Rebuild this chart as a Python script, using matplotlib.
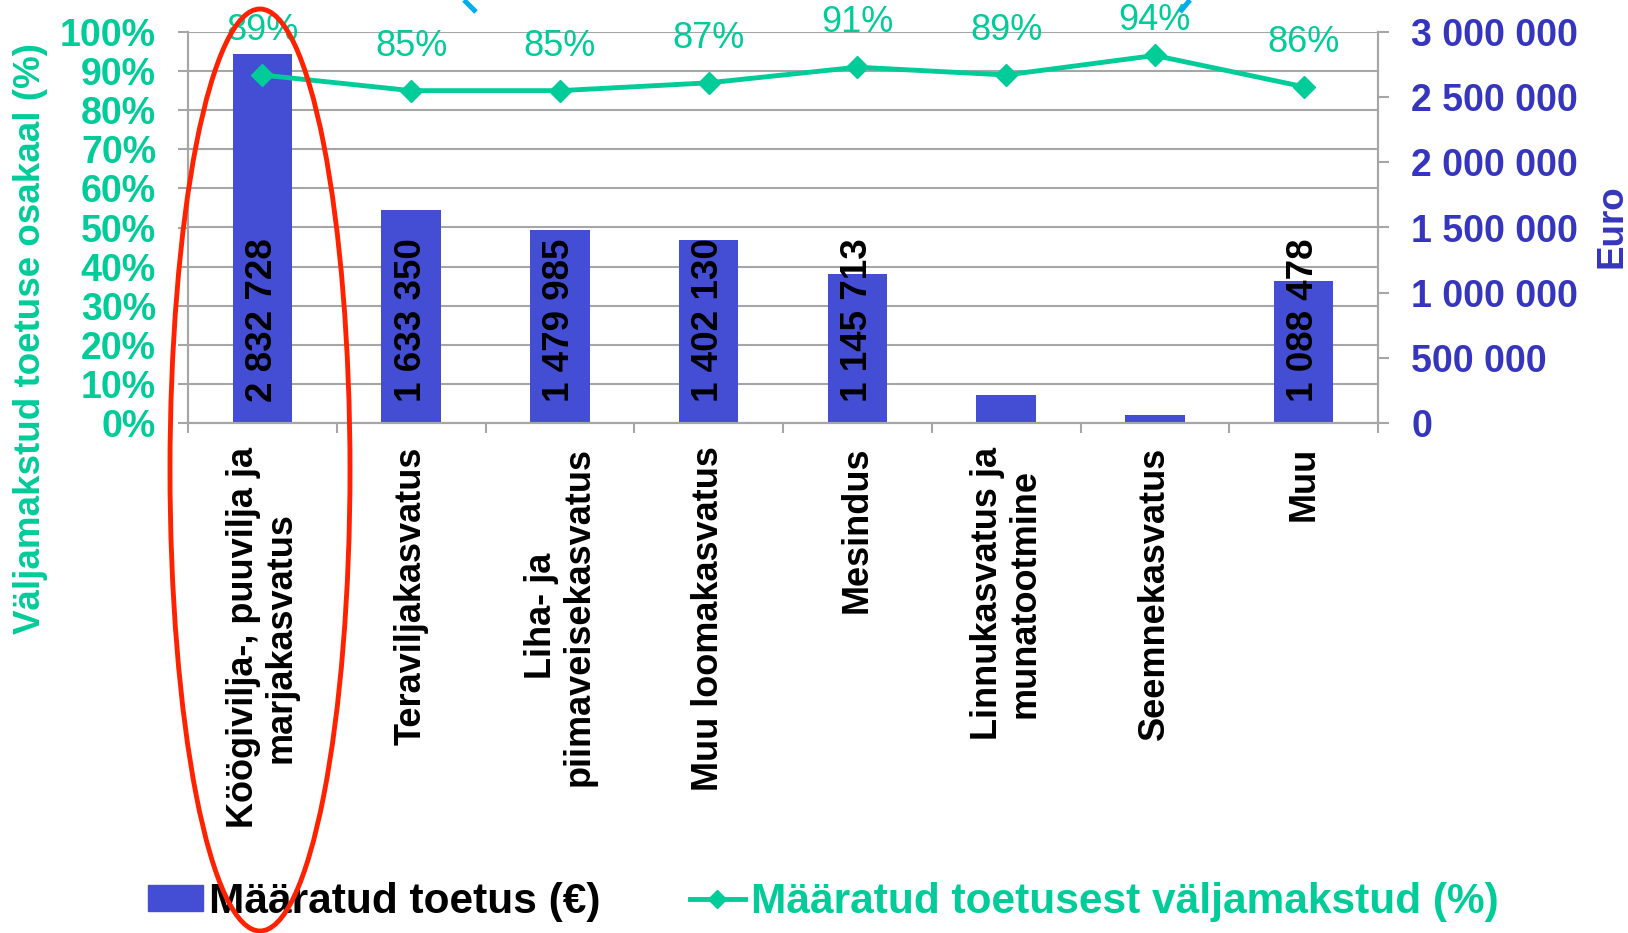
import matplotlib
matplotlib.use("Agg")
import matplotlib.pyplot as plt
import numpy as np
from matplotlib.patches import Ellipse
from matplotlib.lines import Line2D

# data
categories = [
    "Köögivilja-, puuvilja ja\nmarjakasvatus",
    "Teraviljakasvatus",
    "Liha- ja\npiimaveisekasvatus",
    "Muu loomakasvatus",
    "Mesindus",
    "Linnukasvatus ja\nmunatootmine",
    "Seemnekasvatus",
    "Muu",
]
granted_eur = [2832728, 1633350, 1479985, 1402130, 1145713, 215000, 60000, 1088478]
bar_labels = ["2 832 728", "1 633 350", "1 479 985", "1 402 130", "1 145 713", "", "", "1 088 478"]
paid_share = [0.89, 0.85, 0.85, 0.87, 0.91, 0.89, 0.94, 0.86]
share_labels = ["89%", "85%", "85%", "87%", "91%", "89%", "94%", "86%"]
eur_ticks = [0, 500000, 1000000, 1500000, 2000000, 2500000, 3000000]
eur_ticklabels = ["0", "500 000", "1 000 000", "1 500 000", "2 000 000", "2 500 000", "3 000 000"]
pct_ticks = [0.0, 0.1, 0.2, 0.3, 0.4, 0.5, 0.6, 0.7, 0.8, 0.9, 1.0]
pct_ticklabels = ["0%", "10%", "20%", "30%", "40%", "50%", "60%", "70%", "80%", "90%", "100%"]

BAR = "#434ED4"
TEAL = "#00CC99"
BLUE_TXT = "#3535BE"
GRID = "#A6A6A6"

plt.rcParams["font.family"] = ["Liberation Sans", "DejaVu Sans"]

W, H = 1628, 933
fig = plt.figure(figsize=(W / 100, H / 100), dpi=100)

# bars (euro) on the bottom axes, percent line on a twin on top
ax = fig.add_axes([188 / W, 1 - 423 / H, (1378 - 188) / W, (423 - 32) / H])
ax2 = ax.twinx()

x = np.arange(len(categories))
ax.bar(x, granted_eur, width=0.4, color=BAR, zorder=2)
ax.set_xlim(-0.5, len(categories) - 0.5)
ax.set_ylim(0, 3000000)
ax.yaxis.tick_right()
ax.set_yticks(eur_ticks)
ax.set_yticklabels(eur_ticklabels, fontweight="bold")
ax.tick_params(axis="y", which="major", direction="out", length=8, width=1.5,
               color=GRID, pad=16, labelsize=27, labelcolor=BLUE_TXT,
               left=False, labelleft=False, right=True, labelright=True)
# gridlines follow the percent axis, kept behind the bars
ax.yaxis.remove_overlapping_locs = False
ax.set_yticks(np.linspace(0, 3000000, 11), minor=True)
ax.tick_params(axis="y", which="minor", length=0, left=False, right=False)
ax.grid(axis="y", which="minor", color=GRID, lw=1.5, zorder=0)
ax.set_axisbelow(True)

for xi, lbl in zip(x, bar_labels):
    if lbl:
        ax.annotate(lbl, (xi, 0), xytext=(0, 15), textcoords="offset points",
                    rotation=90, ha="center", va="bottom", fontsize=26.5,
                    fontweight="bold", color="black", zorder=3)

# category ticks: marks at boundaries, labels at centres
ax.set_xticks(np.arange(-0.5, len(categories), 1.0))
ax.set_xticklabels([])
ax.tick_params(axis="x", which="major", direction="out", length=7, width=1.5, color=GRID)
ax.set_xticks(x, minor=True)
ax.set_xticklabels(categories, minor=True, rotation=90, ha="center", va="top",
                   multialignment="center", fontsize=26, fontweight="bold",
                   linespacing=1.1)
ax.tick_params(axis="x", which="minor", length=0, pad=17)

for a in (ax, ax2):
    for side in ["left", "right", "bottom"]:
        a.spines[side].set_color(GRID)
        a.spines[side].set_linewidth(1.5)
    a.spines["top"].set_visible(False)

# percent line, ticks on the left
ax2.plot(x, paid_share, color=TEAL, lw=3.5, marker="D", markersize=11,
         markeredgecolor=TEAL, zorder=4)
ax2.set_ylim(0, 1)
ax2.set_yticks(pct_ticks)
ax2.set_yticklabels(pct_ticklabels, fontweight="bold")
ax2.tick_params(axis="y", direction="out", length=7, width=1.5, color=GRID,
                pad=16, labelsize=27, labelcolor=TEAL,
                left=True, labelleft=True, right=False, labelright=False)

label_offsets = [32, 32, 32, 32, 32, 32, 25, 32]
for xi, v, lbl, off in zip(x, paid_share, share_labels, label_offsets):
    ax2.annotate(lbl, (xi, v), xytext=(0, off), textcoords="offset points",
                 ha="center", va="center", fontsize=26, color=TEAL)

# axis titles
fig.text(31 / W, 1 - 338 / H, "Väljamakstud toetuse osakaal (%)", rotation=90,
         ha="center", va="center", fontsize=26.5, fontweight="bold", color=TEAL)
fig.text(1612 / W, 1 - 226 / H, "Euro", rotation=90, ha="center", va="center",
         fontsize=26.5, fontweight="bold", color=BLUE_TXT)

# legend
h_bar = plt.Rectangle((0, 0), 1, 1, color=BAR)
h_line = Line2D([], [], color=TEAL, lw=3.5, marker="D", markersize=9)
leg = fig.legend([h_bar, h_line],
                 ["Määratud toetus (€)", "Määratud toetusest väljamakstud (%)"],
                 loc="center left", bbox_to_anchor=(148 / W, 1 - 902 / H),
                 ncol=2, frameon=False, borderpad=0, borderaxespad=0,
                 handlelength=1.3, handleheight=0.55, handletextpad=0.15,
                 columnspacing=2.1, prop={"size": 30.5, "weight": "bold"})
leg.get_texts()[0].set_color("black")
leg.get_texts()[1].set_color(TEAL)

# red highlight ellipse around the first category
fig.add_artist(Ellipse((260 / W, 1 - 470 / H), 180 / W, 922 / H,
                       transform=fig.transFigure, fill=False,
                       edgecolor="#FF2200", lw=3.5, zorder=10))

# cut-off cyan strokes at the top edge
fig.add_artist(Line2D([464 / W, 476 / W], [1.0, 1 - 12 / H], transform=fig.transFigure,
                      color="#00AEEF", lw=3.6, solid_capstyle="butt"))
fig.add_artist(Line2D([1190 / W, 1180 / W], [1.0, 1 - 12 / H], transform=fig.transFigure,
                      color="#00AEEF", lw=3.6, solid_capstyle="butt"))

fig.savefig("out.png", dpi=100)
